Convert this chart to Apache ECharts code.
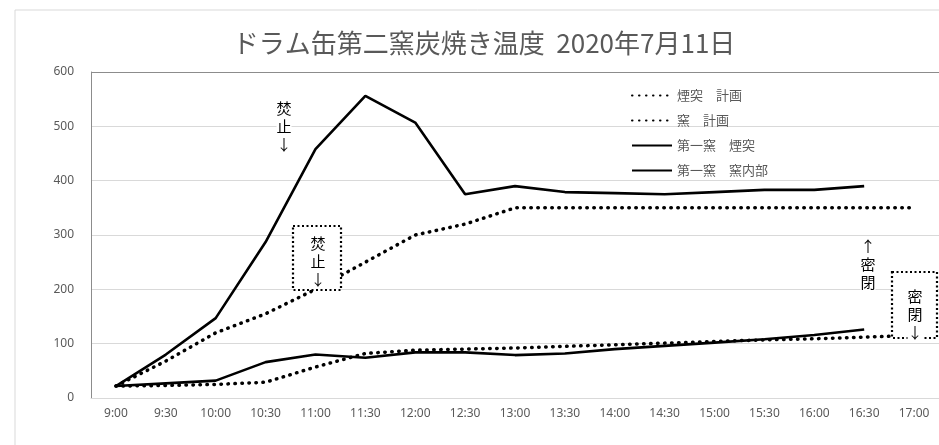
<!DOCTYPE html>
<html>
<head>
<meta charset="utf-8">
<script src="https://cdn.jsdelivr.net/npm/echarts@6/dist/echarts.min.js"></script>
<style>
  html, body { margin: 0; padding: 0; background: #fff; }
  #main { width: 939px; height: 445px; }
</style>
</head>
<body>
<div id="main"></div>
<script>
// 時刻ラベル
var times = ['9:00','9:30','10:00','10:30','11:00','11:30','12:00','12:30','13:00','13:30','14:00','14:30','15:00','15:30','16:00','16:30','17:00'];
// 計画値
var chimneyPlan = [22, 68, 120, 155, 200, 250, 300, 320, 350, 350, 350, 350, 350, 350, 350, 350, 350];
var kilnPlan    = [22, 23, 25, 29, 57, 82, 88, 90, 92, 95, 98, 101, 104, 107, 109, 112, 115];
// 実測値 (第一窯)
var chimney1    = [22, 80, 147, 287, 458, 556, 507, 375, 390, 379, 377, 375, 379, 383, 383, 390, '-'];
var kilnInner1  = [22, 27, 32, 66, 80, 74, 84, 84, 79, 82, 90, 96, 102, 108, 116, 126, '-'];
var yTicks = [0, 100, 200, 300, 400, 500, 600];

var names = ['煙突　計画', '窯　計画', '第一窯　煙突', '第一窯　窯内部'];
var jp = "'Noto Sans CJK JP', sans-serif";

var myChart = echarts.init(document.getElementById('main'));

var dotted = { color: '#000', width: 3.5, type: [0.5, 6.5], cap: 'round' };
var solid = { color: '#000', width: 2.6 };

function note(x, y, txt) {
    return {
        type: 'text', x: x, y: y, z: 100,
        style: { text: txt, fill: '#000', font: '15px ' + jp, align: 'center', lineHeight: 18,
                 backgroundColor: '#fff' }
    };
}
function box(x, y, w, h) {
    return {
        type: 'rect', z: 99, shape: { x: x, y: y, width: w, height: h },
        style: { fill: '#fff', stroke: '#000', lineWidth: 2.2, lineDash: [2, 2.5] }
    };
}

var option = {
    animation: false,
    title: {
        text: 'ドラム缶第二窯炭焼き温度  2020年7月11日',
        left: 479, top: 25, textAlign: 'center',
        textStyle: { fontFamily: jp, fontSize: 26, fontWeight: 'normal', color: '#595959' }
    },
    legend: {
        orient: 'vertical', left: 626, top: 84,
        itemWidth: 40, itemHeight: 14, itemGap: 12,
        itemStyle: { opacity: 0 },
        textStyle: { fontFamily: jp, fontSize: 13, color: '#595959' },
        data: names
    },
    grid: { left: 91, top: 72, width: 857, bottom: 47 },
    xAxis: {
        type: 'category', data: times, boundaryGap: true,
        axisLine: { lineStyle: { color: '#d9d9d9' } },
        axisTick: { show: false },
        axisLabel: { color: '#595959', fontSize: 12, margin: 10, interval: 0, fontFamily: "'Noto Sans', sans-serif" }
    },
    yAxis: {
        type: 'value', min: yTicks[0], max: yTicks[yTicks.length - 1], interval: 100,
        axisLine: { show: true, lineStyle: { color: '#8c8c8c' } },
        axisTick: { show: false },
        axisLabel: { color: '#595959', fontSize: 12, margin: 17, fontFamily: "'Noto Sans', sans-serif" },
        splitLine: { lineStyle: { color: ['#d9d9d9','#d9d9d9','#d9d9d9','#d9d9d9','#d9d9d9','#d9d9d9','#8c8c8c'] } }
    },
    series: [
        { name: names[0], type: 'line', data: chimneyPlan, symbol: 'none', lineStyle: dotted, itemStyle: { color: '#000' } },
        { name: names[1], type: 'line', data: kilnPlan, symbol: 'none', lineStyle: dotted, itemStyle: { color: '#000' } },
        { name: names[2], type: 'line', data: chimney1, symbol: 'none', lineStyle: solid, itemStyle: { color: '#000' } },
        { name: names[3], type: 'line', data: kilnInner1, symbol: 'none', lineStyle: solid, itemStyle: { color: '#000' } }
    ],
    graphic: [
        { type: 'rect', z: -10, silent: true, shape: { x: 15, y: 10, width: 960, height: 460 },
          style: { fill: 'none', stroke: '#d9d9d9', lineWidth: 1 } },
        note(284, 99, '焚\n止\n↓'),
        box(293, 226, 48, 64),
        note(318, 234, '焚\n止\n↓'),
        note(868, 237, '↑\n密\n閉'),
        box(892, 272, 45, 66),
        note(915, 287, '密\n閉\n↓')
    ]
};

myChart.setOption(option);
</script>
</body>
</html>
